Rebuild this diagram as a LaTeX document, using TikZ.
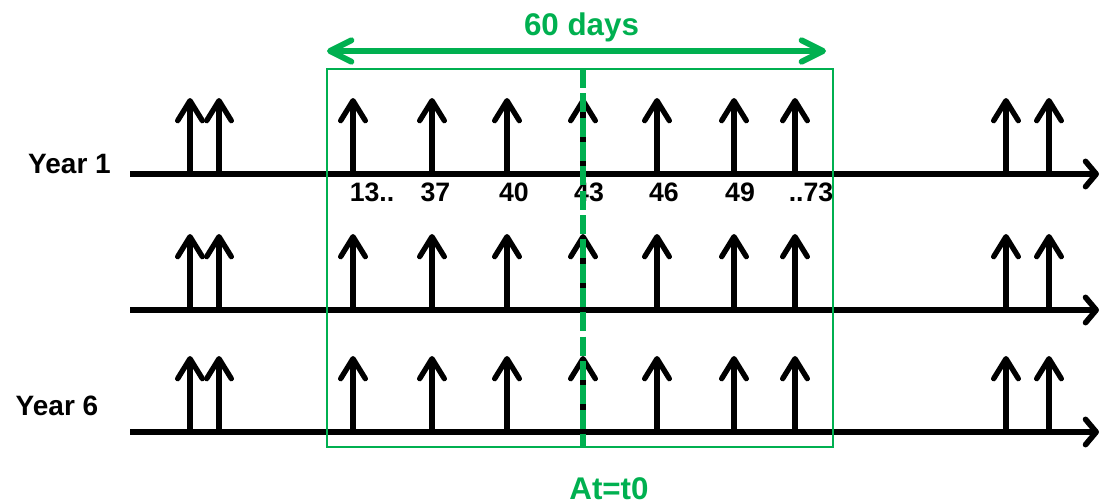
\documentclass[tikz,border=0pt]{standalone}
\usepackage{fontspec}
\setmainfont{Liberation Sans}
\usetikzlibrary{arrows.meta}
\definecolor{grn}{HTML}{00B050}
\begin{document}
\begin{tikzpicture}[x=0.75pt,y=-0.75pt,
  axisline/.style={line width=4.2pt,-{Straight Barb[length=8pt,width=19pt,line cap=round,line join=round]}},
  evt/.style={line width=4pt,-{Straight Barb[length=15pt,width=18.5pt,line cap=round,line join=round]}},
  span/.style={grn,line width=4.5pt,{Straight Barb[length=16pt,width=16pt,line cap=round,line join=round]}-{Straight Barb[length=16pt,width=16pt,line cap=round,line join=round]}},
  winbox/.style={draw=grn,line width=1.5pt},
  tzero/.style={grn,line width=4.2pt,dash pattern=on 14.25pt off 4pt},
  lbl/.style={font=\bfseries\fontsize{20}{23}\selectfont,anchor=base,inner sep=0pt},
  yearlbl/.style={font=\bfseries\fontsize{21}{24}\selectfont,anchor=base,inner sep=0pt},
  grnlbl/.style={grn,font=\bfseries\fontsize{23.5}{27}\selectfont,anchor=base,inner sep=0pt}]
\useasboundingbox (0,0) rectangle (1101,504);
% timelines
\foreach \r/\yy in {1/174,2/310,3/432}{
  \coordinate (ax\r s) at (130,\yy);
  \coordinate (ax\r e) at (1099,\yy);
  \draw[axisline] (ax\r s) -- (ax\r e);
  \foreach \k/\xx in {1/190,2/219,3/353,4/432,5/507,6/583,7/657,8/734,9/795,10/1006,11/1049}{
    \coordinate (b\r-\k) at (\xx,\yy);
    \coordinate (t\r-\k) at (\xx,\yy-76);
    \draw[evt] (b\r-\k) -- (t\r-\k);
  }
}
% window box
\coordinate (boxnw) at (327,69);
\coordinate (boxse) at (833,447);
\draw[winbox] (boxnw) rectangle (boxse);
% 60 days span
\coordinate (spl) at (327,51);
\coordinate (spr) at (826,51);
\draw[span] (spl) -- (spr);
\node[grnlbl] (days) at (581.5,35) {60 days};
\node[grnlbl] (at0) at (609,499) {At=t0};
% year labels
\node[yearlbl] (y1) at (69.5,173) {Year 1};
\node[yearlbl] (y6) at (57,415) {Year 6};
% day labels
\node[lbl] (l13) at (372,201) {13..};
\node[lbl] (l37) at (435.5,201) {37};
\node[lbl] (l40) at (514,201) {40};
\node[lbl] (l43) at (589,201) {43};
\node[lbl] (l46) at (664,201) {46};
\node[lbl] (l49) at (740,201) {49};
\node[lbl] (l73) at (811,201) {..73};
% t0 line
\coordinate (t0top) at (583,69);
\coordinate (t0bot) at (583,447);
\draw[tzero] (t0top) -- (t0bot);
\end{tikzpicture}
\end{document}
